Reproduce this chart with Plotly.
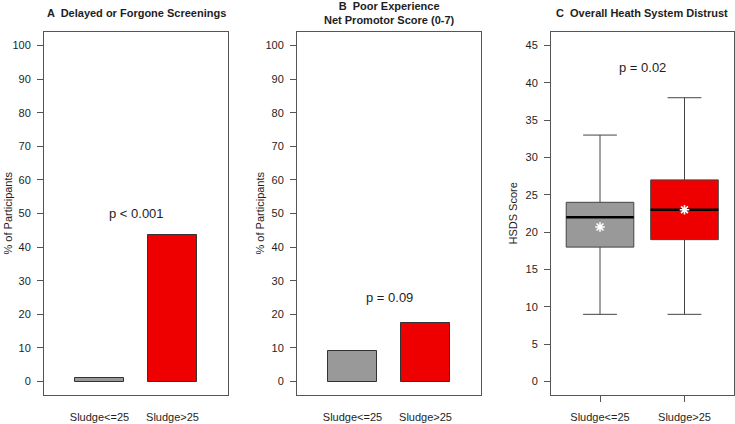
import plotly.graph_objects as go

# ---- data ----
categories = ["Sludge<=25", "Sludge>25"]
pct_delayed = [1.2, 43.5]        # Panel A, % of participants
pct_poor_exp = [9.0, 17.4]       # Panel B, % of participants
p_text = ["p < 0.001", "p = 0.09", "p = 0.02"]
p_y = [50, 25, 42]

# Panel C box statistics (HSDS score)
hsds_low = [9, 9]
hsds_q1 = [18, 19]
hsds_median = [22, 23]
hsds_q3 = [24, 27]
hsds_high = [33, 38]
hsds_mean = [20.7, 23.0]

colors = ["#999999", "#EE0000"]
titles = ["<b>A  Delayed or Forgone Screenings</b>",
          "<b>B  Poor Experience<br>Net Promotor Score (0-7)</b>",
          "<b>C  Overall Heath System Distrust</b>"]
ytitles = ["% of Participants", "% of Participants", "HSDS Score"]

W, H = 735, 424
FONT = "Liberation Sans, Arial, Helvetica, sans-serif"
TXT = "#1e1e1e"
LINE = "#555555"


def px(x):
    return x / W


def py(y):
    return 1 - y / H


# pixel layout of panels (window coordinates)
boxes = [(44, 228), (297, 481), (551, 733.5)]
top_px, bot_px = 32, 395
ydom = [py(bot_px), py(top_px)]

bar_x = [1.0 + 1.5 * i for i in range(len(categories))]
box_x = [1 + i for i in range(len(categories))]

fig = go.Figure()

# Panel A bars
fig.add_trace(go.Bar(x=bar_x, y=pct_delayed, width=1.0, marker=dict(color=colors, line=dict(color="#333333", width=1)),
                     xaxis="x", yaxis="y", showlegend=False, hoverinfo="skip"))
# Panel B bars
fig.add_trace(go.Bar(x=bar_x, y=pct_poor_exp, width=1.0, marker=dict(color=colors, line=dict(color="#333333", width=1)),
                     xaxis="x2", yaxis="y2", showlegend=False, hoverinfo="skip"))

# Panel C boxes
for i in range(len(categories)):
    fig.add_trace(go.Box(x=[box_x[i]], q1=[hsds_q1[i]], median=[hsds_median[i]], q3=[hsds_q3[i]],
                         lowerfence=[hsds_low[i]], upperfence=[hsds_high[i]],
                         width=0.8, whiskerwidth=0.5, fillcolor=colors[i],
                         line=dict(color="#444444", width=1), xaxis="x3", yaxis="y3",
                         showlegend=False, hoverinfo="skip", boxpoints=False))
    fig.add_trace(go.Scatter(x=[box_x[i] - 0.4, box_x[i] + 0.4], y=[hsds_median[i]] * 2, mode="lines",
                             line=dict(color="black", width=2.5), xaxis="x3", yaxis="y3",
                             showlegend=False, hoverinfo="skip"))
fig.add_trace(go.Scatter(x=box_x, y=hsds_mean, mode="markers",
                         marker=dict(symbol="asterisk-open", size=8, color="white",
                                     line=dict(color="white", width=1.6)),
                         xaxis="x3", yaxis="y3", showlegend=False, hoverinfo="skip"))

common_y = dict(showline=True, mirror=True, linecolor=LINE, linewidth=1, ticks="outside", ticklen=6,
                tickcolor=LINE, tickfont=dict(family=FONT, size=11, color=TXT), showgrid=False,
                zeroline=False, ticklabelstandoff=4, domain=ydom)
common_x = dict(showline=True, mirror=True, linecolor=LINE, linewidth=1, showgrid=False, zeroline=False,
                tickfont=dict(family=FONT, size=11, color=TXT))

layout = dict(width=W, height=H, margin=dict(l=0, r=0, t=0, b=0), paper_bgcolor="white",
              plot_bgcolor="white", boxmode="overlay", bargap=0, hovermode=False)
layout["xaxis"] = dict(common_x, domain=[px(boxes[0][0]), px(boxes[0][1])], range=[-0.14, 3.64],
                       tickvals=bar_x, ticktext=categories, ticks="", ticklabelstandoff=12, anchor="y")
layout["xaxis2"] = dict(common_x, domain=[px(boxes[1][0]), px(boxes[1][1])], range=[-0.14, 3.64],
                        tickvals=bar_x, ticktext=categories, ticks="", ticklabelstandoff=12, anchor="y2")
layout["xaxis3"] = dict(common_x, domain=[px(boxes[2][0]), min(1.0, px(boxes[2][1]))], range=[0.42, 2.58],
                        tickvals=box_x, ticktext=categories, ticks="outside", ticklen=6, tickcolor=LINE,
                        ticklabelstandoff=6, anchor="y3")
layout["yaxis"] = dict(common_y, range=[-4, 104], tickvals=list(range(0, 101, 10)), anchor="x")
layout["yaxis2"] = dict(common_y, range=[-4, 104], tickvals=list(range(0, 101, 10)), anchor="x2")
layout["yaxis3"] = dict(common_y, range=[-1.8, 46.8], tickvals=list(range(0, 46, 5)), anchor="x3")
fig.update_layout(**layout)

ann = []
centers = [(a + b) / 2 for a, b in boxes]
for i in range(3):
    ann.append(dict(text=titles[i], xref="paper", yref="paper", x=px(centers[i]), y=py(13),
                    xanchor="center", yanchor="middle", showarrow=False,
                    font=dict(family=FONT, size=11, color=TXT)))
ytitle_px = [7, 259, 512]
for i in range(3):
    ann.append(dict(text=ytitles[i], xref="paper", yref="paper", x=px(ytitle_px[i]),
                    y=(ydom[0] + ydom[1]) / 2, textangle=-90, xanchor="center", yanchor="middle",
                    showarrow=False, font=dict(family=FONT, size=11, color=TXT)))
pxref = ["x", "x2", "x3"]
pyref = ["y", "y2", "y3"]
p_x = [1.75, 1.75, 1.5]
for i in range(3):
    ann.append(dict(text=p_text[i], xref=pxref[i], yref=pyref[i], x=p_x[i], y=p_y[i],
                    xanchor="center", yanchor="middle", showarrow=False,
                    font=dict(family=FONT, size=13, color=TXT)))
fig.update_layout(annotations=ann)

# remove the default 8px page margin so the 735x424 figure fills the window exactly
fig.write_html("out.html", config={"displayModeBar": False},
               post_script="document.body.style.margin='0';")
